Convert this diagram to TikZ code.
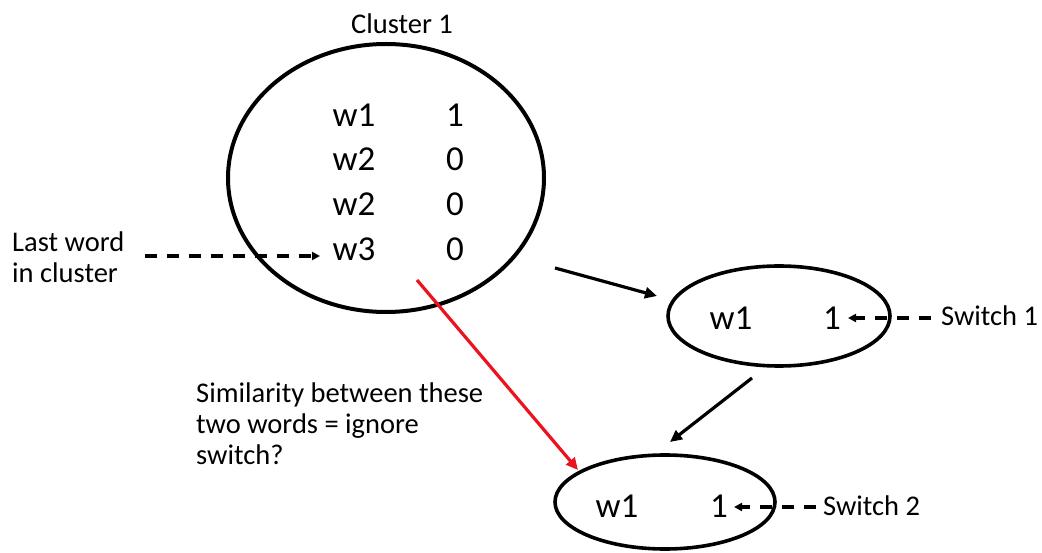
\documentclass[tikz,border=0pt]{standalone}
\usepackage{fontspec}
\setmainfont{Carlito}
\usetikzlibrary{arrows.meta,calc}
\begin{document}
\begin{tikzpicture}[x=1pt,y=-1pt,
  big/.style={font=\fontsize{35}{40}\selectfont,inner sep=0pt},
  small/.style={font=\fontsize{28.5}{31}\selectfont,inner sep=0pt},
  link/.style={line width=3.2pt,-{Triangle[length=12pt,width=11pt]}},
  dlink/.style={line width=3.2pt,dash pattern=on 12pt off 10pt,-{Triangle[length=8pt,width=8pt]}},
  redlink/.style={link,draw={rgb,255:red,235;green,20;blue,30}}
]
\useasboundingbox (0,0) rectangle (1042,553);
% cluster outlines
\draw[line width=4pt] (386,178) ellipse [x radius=158, y radius=134];
\draw[line width=3.6pt] (779,316) ellipse [x radius=111, y radius=50];
\draw[line width=3.6pt] (665,502) ellipse [x radius=110, y radius=47];
% cluster contents
\node[small] (title) at (402,24) {Cluster 1};
\node[big] (a1) at (354,115) {w1};
\node[big] (b1) at (455,115) {1};
\node[big] (a2) at (354,159) {w2};
\node[big] (b2) at (455,159) {0};
\node[big] (a3) at (354,204) {w2};
\node[big] (b3) at (455,204) {0};
\node[big] (a4) at (354,249) {w3};
\node[big] (b4) at (455,249) {0};
% other clusters
\node[big] (s1w) at (731,318) {w1};
\node[big] (s1n) at (832,318) {1};
\node[big] (s2w) at (617,506) {w1};
\node[big] (s2n) at (719,506) {1};
% side labels
\node[small,anchor=west,align=left] (last) at (12,257) {Last word\\in cluster};
\node[small,anchor=west] (sw1) at (941,316) {Switch 1};
\node[small,anchor=west] (sw2) at (823,506) {Switch 2};
\node[small,anchor=west,align=left] (sim) at (196,424) {Similarity between these\\two words = ignore\\switch?};
% connectors
\coordinate (lst) at (145,256);
\coordinate (lend) at (320,256);
\draw[dlink] (lst) -- (lend);
\coordinate (t1) at (931,318);
\coordinate (h1) at (848,318);
\draw[dlink] (t1) -- (h1);
\coordinate (t2) at (816,507);
\coordinate (h2) at (734,507);
\draw[dlink] (t2) -- (h2);
\coordinate (p1) at (555,268);
\coordinate (p2) at (657,296);
\draw[link] (p1) -- (p2);
\coordinate (q1) at (752,378);
\coordinate (q2) at (670,442);
\draw[link] (q1) -- (q2);
\coordinate (r1) at (417,280);
\coordinate (r2) at (578,470);
\draw[redlink] (r1) -- (r2);
\end{tikzpicture}
\end{document}
